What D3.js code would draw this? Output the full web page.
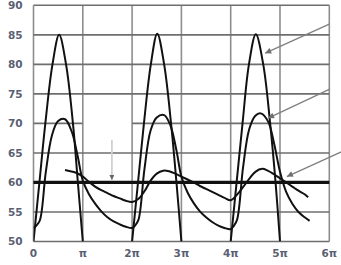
<!DOCTYPE html>
<meta charset="utf-8">
<style>
body { margin: 0; background: #fff; }
text { font-family: 'DejaVu Sans', sans-serif; font-weight: bold; font-size: 10.5px; fill: #5a5f73; }
.grid-h { stroke: #6e6e6e; stroke-width: 1.6; }
.grid-v { stroke: #8e8e8e; stroke-width: 1.6; }
.curve { fill: none; stroke: #111; stroke-width: 2; }
.ref60 { stroke: #111; stroke-width: 3.2; }
</style>
<body>
<script src="https://cdn.jsdelivr.net/npm/d3@7"></script>
<script>

// x in multiples of pi, y in the chart's own units
var xTicks = [0, 1, 2, 3, 4, 5, 6];
var xLabels = ["0", "π", "2π", "3π", "4π", "5π", "6π"];
var yTicks = [50, 55, 60, 65, 70, 75, 80, 85, 90];
var refLevel = 60;

// tall curve (peaks at 85), null = below the axis, not drawn
var tallT = [0, 0.12, 0.24, 0.385, 0.52, 0.66, 0.8, 0.9, 1.0, 1.5,
             2.0, 2.12, 2.24, 2.38, 2.51, 2.65, 2.79, 2.9, 3.0, 3.5,
             4.0, 4.12, 4.24, 4.37, 4.51, 4.66, 4.8, 4.91, 5.0];
var tallV = [50, 60, 70, 80, 85, 80, 70, 60, 50, null,
             50, 60, 70, 80, 85.2, 80, 70, 60, 50, null,
             50, 60, 70, 80, 85.1, 80, 70, 60, 50];

// middle curve (peaks near 71)
var midT = [0, 0.06, 0.13, 0.25, 0.375, 0.5, 0.64, 0.78, 0.9, 1.0, 1.125, 1.25, 1.375, 1.5, 1.625, 1.75, 1.875,
            2.0, 2.06, 2.13, 2.25, 2.375, 2.5, 2.65, 2.78, 2.9, 3.0, 3.125, 3.25, 3.375, 3.5, 3.625, 3.75, 3.875,
            4.0, 4.06, 4.13, 4.25, 4.375, 4.5, 4.61, 4.76, 4.88, 5.0, 5.125, 5.25, 5.375, 5.5, 5.6];
var midV = [52.3, 52.7, 53.6, 61.8, 68.0, 70.4, 70.7, 68.5, 64.3, 60.3, 58.0, 56.4, 55.1, 54.1, 53.4, 52.9, 52.5,
            52.3, 52.7, 53.7, 62.2, 68.8, 71.0, 71.4, 69.6, 65.4, 61.0, 58.3, 56.5, 55.1, 54.1, 53.3, 52.7, 52.3,
            52.1, 52.6, 53.7, 62.5, 69.0, 71.3, 71.7, 70.3, 66.6, 61.8, 58.4, 56.4, 55.0, 54.1, 53.5];

// low curve (peaks near 62)
var lowT = [0.64, 0.75, 0.875, 1.0, 1.125, 1.25, 1.375, 1.5, 1.625, 1.75, 1.875,
            2.0, 2.125, 2.25, 2.375, 2.5, 2.63, 2.75, 2.875, 3.0, 3.125, 3.25, 3.375, 3.5, 3.625, 3.75, 3.875,
            4.0, 4.125, 4.25, 4.375, 4.5, 4.64, 4.75, 4.875, 5.0, 5.125, 5.25, 5.375, 5.5, 5.57];
var lowV = [62.1, 61.9, 61.6, 61.0, 60.1, 59.3, 58.7, 58.2, 57.7, 57.3, 56.9,
            56.7, 57.2, 58.5, 60.3, 61.5, 62.0, 61.9, 61.5, 61.0, 60.5, 60.0, 59.4, 58.9, 58.4, 57.9, 57.4,
            57.0, 57.9, 59.2, 60.6, 61.8, 62.3, 62.0, 61.4, 60.7, 60.0, 59.3, 58.6, 58.0, 57.5];

// annotation arrows: [x0, y0, x1, y1] in data units (tip at x1,y1)
var arrowLines = [[6.0, 86.8, 4.7, 81.9], [6.01, 75.8, 4.76, 70.9], [6.25, 65.2, 5.14, 61.0]];
var markArrow = [1.59, 67.2, 1.59, 60.4];
// stretch of a gridline that is missing in the original
var gridGap = {v: 70, from: 1, to: 2};

var W = 341, H = 265;
var x = d3.scaleLinear().domain([0, 6]).range([33.5, 329.3]);
var y = d3.scaleLinear().domain([50, 90]).range([241.5, 5.3]);

var svg = d3.select("body").append("svg")
    .attr("width", W)
    .attr("height", H);

svg.append("defs").append("clipPath").attr("id", "plot")
  .append("rect")
    .attr("x", x(0)).attr("y", y(90))
    .attr("width", x(6) - x(0)).attr("height", y(50) - y(90));

var defs = svg.select("defs");
defs.append("marker").attr("id", "head")
    .attr("viewBox", "0 0 10 10").attr("refX", 10).attr("refY", 5)
    .attr("markerWidth", 8).attr("markerHeight", 6)
    .attr("markerUnits", "userSpaceOnUse").attr("orient", "auto")
  .append("path").attr("d", "M0,0L10,5L0,10z").attr("fill", "#707070");
defs.append("marker").attr("id", "headSmall")
    .attr("viewBox", "0 0 10 10").attr("refX", 10).attr("refY", 5)
    .attr("markerWidth", 5).attr("markerHeight", 5)
    .attr("markerUnits", "userSpaceOnUse").attr("orient", "auto")
  .append("path").attr("d", "M0,0L10,5L0,10z").attr("fill", "#666");

// vertical gridlines
svg.append("g").selectAll("line")
    .data(xTicks)
  .enter().append("line")
    .attr("class", "grid-v")
    .attr("x1", function(d) { return x(d); })
    .attr("x2", function(d) { return x(d); })
    .attr("y1", y(90)).attr("y2", y(50));

// horizontal gridlines, split where the original has a gap
var hSegs = [];
yTicks.forEach(function(v) {
  if (v === gridGap.v) {
    hSegs.push([v, 0, gridGap.from]);
    hSegs.push([v, gridGap.to, 6]);
  } else {
    hSegs.push([v, 0, 6]);
  }
});
svg.append("g").selectAll("line")
    .data(hSegs)
  .enter().append("line")
    .attr("class", "grid-h")
    .attr("x1", function(d) { return x(d[1]); })
    .attr("x2", function(d) { return x(d[2]); })
    .attr("y1", function(d) { return y(d[0]); })
    .attr("y2", function(d) { return y(d[0]); });

// tick labels
svg.append("g").selectAll("text")
    .data(yTicks)
  .enter().append("text")
    .attr("x", 22.5)
    .attr("y", function(d) { return y(d); })
    .attr("dy", "0.36em")
    .attr("text-anchor", "end")
    .text(function(d) { return d; });

svg.append("g").selectAll("text")
    .data(xTicks)
  .enter().append("text")
    .attr("x", function(d) { return x(d); })
    .attr("y", 257)
    .attr("text-anchor", "middle")
    .text(function(d, i) { return xLabels[i]; });

// curves
function pts(ts, vs) { return ts.map(function(t, i) { return [t, vs[i]]; }); }
var line = d3.line()
    .defined(function(d) { return d[1] != null; })
    .x(function(d) { return x(d[0]); })
    .y(function(d) { return y(d[1]); })
    .curve(d3.curveCatmullRom.alpha(0.5));

var plot = svg.append("g").attr("clip-path", "url(#plot)");
[pts(tallT, tallV), pts(midT, midV), pts(lowT, lowV)].forEach(function(s) {
  plot.append("path").attr("class", "curve").attr("d", line(s));
});

// reference level
svg.append("line")
    .attr("class", "ref60")
    .attr("x1", x(0)).attr("x2", x(6))
    .attr("y1", y(refLevel)).attr("y2", y(refLevel));

// arrows
svg.append("g").selectAll("line")
    .data(arrowLines)
  .enter().append("line")
    .attr("x1", function(d) { return x(d[0]); })
    .attr("y1", function(d) { return y(d[1]); })
    .attr("x2", function(d) { return x(d[2]); })
    .attr("y2", function(d) { return y(d[3]); })
    .attr("stroke", "#808080")
    .attr("stroke-width", 1.4)
    .attr("marker-end", "url(#head)");

svg.append("line")
    .attr("x1", x(markArrow[0])).attr("y1", y(markArrow[1]))
    .attr("x2", x(markArrow[2])).attr("y2", y(markArrow[3]))
    .attr("stroke", "#d0d0d0")
    .attr("stroke-width", 1.8)
    .attr("marker-end", "url(#headSmall)");

</script>
</body>
